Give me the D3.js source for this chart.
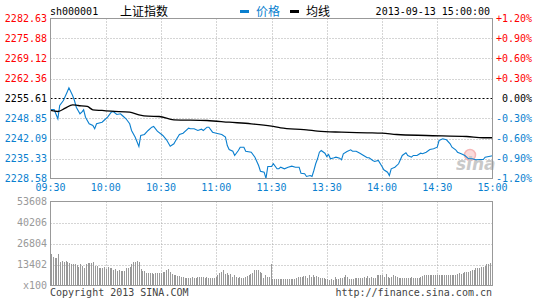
<!DOCTYPE html>
<html><head><meta charset="utf-8">
<script src="https://cdn.jsdelivr.net/npm/d3@7"></script>
<style>
html,body{margin:0;padding:0;background:#fff;}
svg{display:block;}
text{font-family:"DejaVu Sans Mono",monospace;font-size:10px;}
</style></head>
<body>
<svg id="c" width="545" height="300"></svg>
<script>
// ---- data ----
const timeLabels = ["09:30","10:00","10:30","11:00","11:30","13:30","14:00","14:30","15:00"];
const priceTicks = [2282.63, 2275.88, 2269.12, 2262.36, 2255.61, 2248.85, 2242.09, 2235.33, 2228.58];
const pctTicks = ["+1.20%","+0.90%","+0.60%","+0.30%","0.00%","-0.30%","-0.60%","-0.90%","-1.20%"];
const volTicks = [53608, 40206, 26804, 13402, 0];
const volTickLabels = ["53608","40206","26804","13402","x100"];
const prevClose = 2255.61;

// minute index (0..240) and price of price line
const priceMinutes = [0,2,4,5,7,9,10,12,13,14,16,17,18,19,21,23,24,25,28,29,31,33,34,36,38,39,41,43,44,46,48,49,51,53,55,56,58,61,63,65,67,68,70,72,75,76,78,80,82,83,85,86,88,90,93,95,96,97,99,100,102,103,105,106,109,111,113,114,116,117,118,120,
121,123,124,125,127,129,131,133,135,136,138,139,141,142,143,144,145,146,147,149,150,151,152,154,155,157,158,159,161,163,164,166,168,170,172,173,175,176,178,180,181,183,184,185,187,189,191,193,194,196,197,199,201,202,204,206,208,210,211,213,215,217,218,220,221,223,225,227,229,231,233,235,236,238,240];
const priceValues = [2251.89,2251.89,2248.75,2253.25,2254.93,2257.74,2259.22,2256.62,2254.93,2252.67,2250.44,2250.98,2251.79,2249.29,2247.06,2246.49,2245.37,2247.06,2247.60,2248.18,2249.29,2250.98,2251.22,2250.21,2250.44,2249.87,2248.75,2247.06,2244.80,2242.54,2239.40,2243.11,2243.45,2244.80,2245.91,2246.15,2244.56,2243.11,2241.66,2239.50,2240.31,2241.42,2243.45,2243.89,2245.58,2245.37,2245.37,2244.80,2245.24,2244.80,2245.91,2245.91,2244.23,2243.89,2243.45,2242.54,2239.73,2238.38,2237.81,2236.36,2238.04,2239.16,2239.16,2237.81,2237.47,2235.78,2232.98,2231.05,2230.71,2228.60,2232.64,2232.64,
2233.55,2231.86,2231.86,2232.40,2231.86,2232.40,2232.74,2232.40,2232.40,2230.38,2230.17,2229.26,2229.60,2229.26,2231.29,2233.55,2235.24,2237.47,2238.04,2237.13,2236.02,2236.69,2235.24,2235.58,2235.78,2235.44,2234.90,2236.93,2237.71,2238.28,2237.81,2237.81,2237.13,2236.36,2235.58,2235.58,2234.67,2234.33,2234.67,2232.64,2231.52,2230.71,2229.60,2231.86,2232.40,2233.55,2236.36,2237.27,2236.36,2235.78,2236.36,2236.36,2237.13,2236.93,2237.47,2238.38,2238.62,2239.16,2241.42,2242.00,2241.66,2240.31,2239.16,2238.28,2237.47,2236.93,2236.36,2235.24,2235.24,2234.90,2235.00,2235.00,2235.78,2236.02,2236.25];

// average line
const avgMinutes = [0,4,8,12,15,20,23,28,33,43,48,53,59,67,85,97,109,120,125,133,139,145,158,172,180,188,204,226,235,240];
const avgValues = [2251.56,2251.22,2252.33,2253.48,2253.24,2252.91,2251.79,2251.56,2251.32,2250.98,2250.10,2249.63,2249.53,2248.41,2248.18,2247.60,2247.06,2246.25,2245.71,2245.24,2245.04,2244.56,2244.23,2244.02,2243.89,2243.45,2243.11,2242.77,2242.34,2242.34];

// volume per minute (x100)
const volumes = [
20070,18370,17300,17720,20070,15160,15590,15160,15590,14730,
14090,13450,13450,13450,13020,11950,13450,12590,11310,13450,
14090,14090,14520,15160,12380,12380,10880,10880,11310,11950,
10460,11530,10880,11310,9820,10240,9390,9820,9170,9170,
9170,10880,11310,11950,13450,15160,14730,15590,14730,10460,
9170,9170,8110,7680,7680,7680,7250,7680,8110,7680,
8110,8320,8750,9820,10460,8750,7040,6610,6610,6180,
6180,5540,5540,4900,4900,4900,4900,5540,4900,4900,
5540,5540,5540,5540,4900,5540,4900,4470,4900,4470,
5540,6610,7680,8750,9820,7040,7680,6610,7040,5540,
6610,5540,4900,5540,4900,4900,5540,6180,6610,7040,
7680,9820,9820,9820,8320,7680,4470,6610,5540,5540,
13450,
4050,4050,4050,4050,4050,4050,4050,4050,4050,4050,4050,4050,4050,
4470,5540,5540,5540,5970,5970,4470,6610,5540,6610,
5540,6180,5540,4900,4900,4470,4050,
4050,3400,4050,3400,5540,4050,4050,4900,4900,5540,6610,
5110,4050,4050,4050,4470,
4470,4470,4900,4900,5540,4900,5970,4900,5540,4900,4900,6610,6610,6610,
6610,5540,7040,5540,4900,5540,6610,6180,5540,4900,4900,
4900,4900,4900,4900,4900,5540,4900,4900,4900,4900,5540,6180,6610,6610,6610,
6610,6610,6610,6610,6610,6610,6610,6610,6610,6610,6610,
6610,6610,6610,6610,7040,7680,7040,7680,8320,8750,8750,
9170,9820,9820,10880,10880,11310,11530,11950,12590,13450,13650,14090];

// ---- drawing ----
const svg = d3.select("#c");
const L = 50.5, R = 492.5;
const x = d3.scaleLinear().domain([0,240]).range([L, R]);
const xBar = d3.scaleLinear().domain([0,240]).range([51, 490]);
const yP = d3.scaleLinear().domain([2228.58, 2282.63]).range([178.5, 18.5]);
const yV = d3.scaleLinear().domain([0, 53608]).range([285.5, 201.5]);
const gridMin = [30,60,90,120,150,180,210];

const blue = "#0a7fcf", red = "#ff0000", gray = "#999";

// price panel grid
svg.append("g").selectAll("line").data(priceTicks.filter((d,i)=>i>0 && i<8 && i!==4)).join("line")
  .attr("x1",L).attr("x2",R).attr("y1",d=>Math.round(yP(d))+0.5).attr("y2",d=>Math.round(yP(d))+0.5)
  .attr("stroke","#aaa").attr("stroke-dasharray","1,2");
svg.append("g").selectAll("line").data(gridMin).join("line")
  .attr("x1",d=>Math.round(x(d))+0.5).attr("x2",d=>Math.round(x(d))+0.5).attr("y1",18.5).attr("y2",178.5)
  .attr("stroke","#aaa").attr("stroke-dasharray","1,2");
svg.append("line").attr("x1",L).attr("x2",R).attr("y1",Math.round(yP(prevClose))+0.5).attr("y2",Math.round(yP(prevClose))+0.5)
  .attr("stroke","#000").attr("stroke-dasharray","2,2");

// volume grid
svg.append("g").selectAll("line").data(volTicks.slice(1,4)).join("line")
  .attr("x1",L).attr("x2",R).attr("y1",d=>Math.round(yV(d))+0.5).attr("y2",d=>Math.round(yV(d))+0.5)
  .attr("stroke","#aaa").attr("stroke-dasharray","1,2");
svg.append("g").selectAll("line").data(gridMin).join("line")
  .attr("x1",d=>Math.round(x(d))+0.5).attr("x2",d=>Math.round(x(d))+0.5).attr("y1",201.5).attr("y2",285.5)
  .attr("stroke","#aaa").attr("stroke-dasharray","1,2");

// volume bars
svg.append("g").selectAll("rect").data(volumes).join("rect")
  .attr("x",(d,i)=>Math.round(xBar(i))).attr("width",1)
  .attr("y",d=>Math.round(yV(d))).attr("height",d=>285.5-Math.round(yV(d)))
  .attr("fill",gray);

// watermark
const wm = svg.append("g").attr("opacity",0.75);
wm.append("circle").attr("cx",470).attr("cy",155).attr("r",5.5).attr("fill","#fbd0d0").attr("stroke","#f4a0a0").attr("stroke-width",1.5);
wm.append("text").attr("x",456).attr("y",170).style("font-family","DejaVu Sans").style("font-size","17px")
  .style("font-weight","bold").style("font-style","italic").attr("fill","#b8b8b8").text("sina");

// lines
const pts = priceMinutes.map((m,i)=>[m, priceValues[i]]);
svg.append("path").datum(pts).attr("fill","none").attr("stroke",blue).attr("stroke-width",1.1)
  .attr("d", d3.line().x(d=>x(d[0])).y(d=>yP(d[1])));
const apts = avgMinutes.map((m,i)=>[m, avgValues[i]]);
svg.append("path").datum(apts).attr("fill","none").attr("stroke","#000").attr("stroke-width",1.3)
  .attr("d", d3.line().x(d=>x(d[0])).y(d=>yP(d[1])).curve(d3.curveMonotoneX));

// borders
svg.append("rect").attr("x",L).attr("y",18.5).attr("width",R-L).attr("height",160).attr("fill","none").attr("stroke",gray);
svg.append("rect").attr("x",L).attr("y",201.5).attr("width",R-L).attr("height",84).attr("fill","none").attr("stroke",gray);

// left price labels
svg.append("g").selectAll("text").data(priceTicks).join("text")
  .attr("x",47).attr("y",d=>yP(d)+3.5).attr("text-anchor","end")
  .attr("fill",(d,i)=> i<4 ? red : (i===4 ? "#000" : blue))
  .text(d=>d.toFixed(2));
// right pct labels
svg.append("g").selectAll("text").data(pctTicks).join("text")
  .attr("x",532).attr("y",(d,i)=>yP(priceTicks[i])+3.5).attr("text-anchor","end")
  .attr("fill",(d,i)=> i<4 ? red : (i===4 ? "#000" : blue))
  .text(d=>d);
// time labels
svg.append("g").selectAll("text").data(timeLabels).join("text")
  .attr("x",(d,i)=>x(i*30)).attr("y",191).attr("text-anchor","middle").attr("fill",blue).text(d=>d);
// volume labels
svg.append("g").selectAll("text").data(volTicks).join("text")
  .attr("x",47).attr("y",d=>yV(d)+3.5).attr("text-anchor","end").attr("fill",gray)
  .text((d,i)=>volTickLabels[i]);

// header
svg.append("text").attr("x",50).attr("y",15).attr("fill","#000").text("sh000001");
svg.append("text").attr("x",120).attr("y",16).style("font-family","'Noto Sans CJK SC'").style("font-size","12px").attr("fill","#000").text("上证指数");
svg.append("rect").attr("x",240).attr("y",10).attr("width",9).attr("height",3).attr("fill",blue);
svg.append("text").attr("x",256).attr("y",16).style("font-family","'Noto Sans CJK SC'").style("font-size","12px").attr("fill",blue).text("价格");
svg.append("rect").attr("x",290).attr("y",10).attr("width",9).attr("height",3).attr("fill","#000");
svg.append("text").attr("x",306).attr("y",16).style("font-family","'Noto Sans CJK SC'").style("font-size","12px").attr("fill","#000").text("均线");
svg.append("text").attr("x",490).attr("y",15).attr("text-anchor","end").attr("fill","#000").text("2013-09-13 15:00:00");

// footer
svg.append("text").attr("x",50).attr("y",296).attr("fill","#444").text("Copyright 2013 SINA.COM");
svg.append("text").attr("x",492).attr("y",296).attr("text-anchor","end").attr("fill","#444").text("http://finance.sina.com.cn");
</script>
</body></html>
